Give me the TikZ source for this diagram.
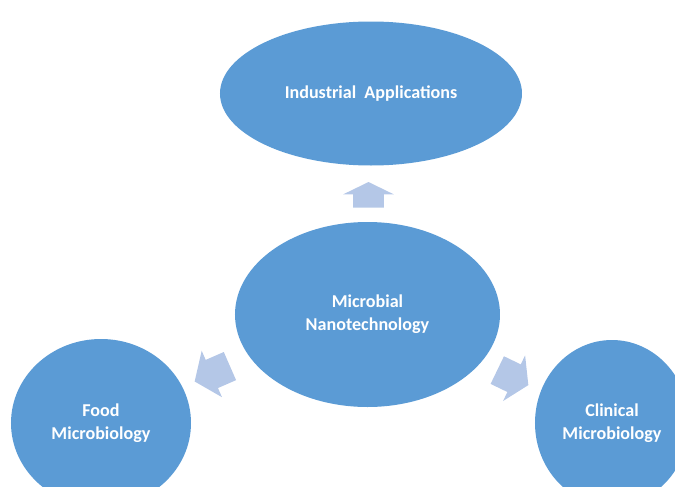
\documentclass[tikz,border=0pt]{standalone}
\usepackage{fontspec}
\setmainfont{Carlito}
\usepackage{tikz}
\usetikzlibrary{shapes, arrows}
\definecolor{bubbleblue}{HTML}{5B9BD5}
\definecolor{arrowblue}{HTML}{B4C7E7}
\tikzstyle{bubble} = [ellipse, inner sep=0pt, text centered, align=center, fill=bubbleblue, text=white, font=\fontsize{10.3pt}{13pt}\selectfont\bfseries]
\tikzstyle{blockarrow} = [single arrow, inner xsep=0pt, inner ysep=0.3cm, minimum width=1cm, single arrow head extend=0.2cm, single arrow tip angle=115, fill=arrowblue]

\begin{document}
\begin{tikzpicture}

\clip (-7.35,-3.43) rectangle (6.15,6.29);

% Bubbles
\node (nanotech) [bubble, minimum width=5.3cm, minimum height=3.7cm] {Microbial\\Nanotechnology};
\node (industrial) [bubble, above of=nanotech, xshift=0.07cm, yshift=3.42cm, minimum width=6.04cm, minimum height=2.88cm] {Industrial\ \ Applications};
\node (food) [bubble, left of=nanotech, xshift=-4.33cm, yshift=-2.17cm, minimum width=3.6cm, minimum height=3.36cm] {Food\\Microbiology};
\node (clinical) [bubble, right of=nanotech, xshift=3.89cm, yshift=-2.17cm, minimum width=3.08cm, minimum height=3.32cm] {Clinical\\Microbiology};

% Block arrows
\node (toindustrial) [blockarrow, above of=nanotech, xshift=0.02cm, yshift=1.32cm, minimum height=0.51cm, single arrow tip angle=128, rotate=90] {};
\node (tofood) [blockarrow, left of=nanotech, xshift=-2cm, yshift=-1.14cm, minimum height=0.77cm, single arrow tip angle=107, rotate=203.6] {};
\node (toclinical) [blockarrow, right of=nanotech, xshift=1.82cm, yshift=-1.22cm, minimum height=0.69cm, single arrow tip angle=116, rotate=-25.8] {};

\end{tikzpicture}
\end{document}
